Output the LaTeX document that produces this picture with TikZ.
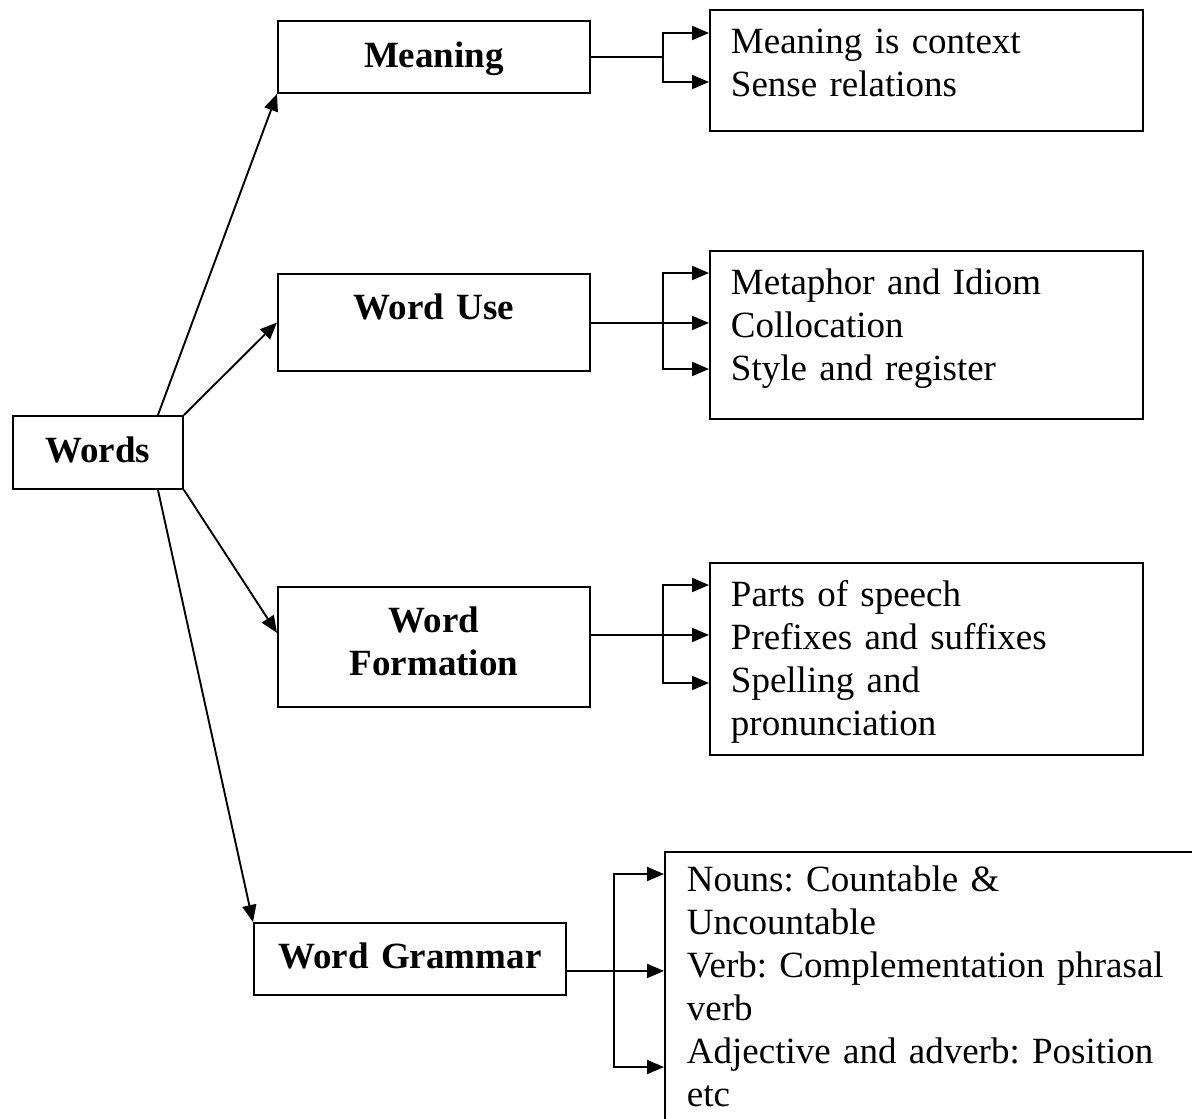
\documentclass[tikz,border=0pt]{standalone}
\usepackage{fontspec}
\setmainfont{Liberation Serif}
\usetikzlibrary{arrows.meta,calc}
\frenchspacing

\begin{document}
\begin{tikzpicture}[x=1pt,y=-1pt,line width=1.9pt,
   headbox/.style={draw,anchor=north west,align=center,inner sep=0pt,
      text width=312pt,text height=46pt,font=\fontsize{37}{43}\selectfont\bfseries},
   listbox/.style={draw,anchor=north west,align=left,inner ysep=0pt,inner xsep=21pt,
      text width=391pt,text height=44pt,font=\fontsize{37}{43}\selectfont},
   arr/.style={-{Triangle[length=17pt,width=14pt]}}]
\useasboundingbox (0,0) rectangle (1192,1119);
\clip (0,0) rectangle (1192,1119);

   \node[headbox,text width=170pt,text height=47pt,text depth=26pt] (words) at (12,415) {Words};
   \node[headbox,text height=47pt,text depth=25pt] (meaning) at (277,20) {Meaning};
   \node[headbox,text depth=51pt] (use) at (277,273) {Word Use};
   \node[headbox,text depth=74pt] (form) at (277,586) {Word\\Formation};
   \node[headbox,text depth=26pt] (gram) at (253,922) {Word Grammar};

   \node[listbox,text depth=77pt] (meaninglist) at (709,9) {Meaning is context\\Sense relations};
   \node[listbox,text depth=124pt] (uselist) at (709,250) {Metaphor and Idiom\\Collocation\\Style and register};
   \node[listbox,text depth=148pt] (formlist) at (709,562) {Parts of speech\\Prefixes and suffixes\\Spelling and\\pronunciation};
   \node[listbox,text width=500pt,inner xsep=22pt,text height=40pt,text depth=240pt] (gramlist) at (664,851)
      {Nouns: Countable \&\\Uncountable\\Verb: Complementation phrasal\\verb\\Adjective and adverb: Position\\etc};

% from Words
\begin{scope}[arr]
   \draw ([xshift=60pt]words.north) -- (meaning.south west);
   \draw (words.north east) -- (use.west);
   \draw (words.south east) -- ([yshift=14pt]form.west);
   \draw ([xshift=60pt]words.south) -- (gram.north west);
\end{scope}

% Meaning
   \draw (meaning.east) -- ++(72,0) coordinate (mfork);
   \draw[arr] (mfork) |- ($(meaninglist.north west)+(0,24)$);
   \draw[arr] (mfork) |- ($(meaninglist.north west)+(0,73)$);

% Word Use
   \coordinate (uout) at ($(use.east)+(0,0.5)$);
   \draw[arr] (uout) -- (uout -| uselist.west);
   \coordinate (ufork) at ($(uout)+(72,0)$);
   \draw[arr] (ufork) |- ($(uselist.north west)+(0,23)$);
   \draw[arr] (ufork) |- ($(uselist.north west)+(0,119)$);

% Word Formation
   \coordinate (fout) at ($(form.east)+(0,-12)$);
   \draw[arr] (fout) -- (fout -| formlist.west);
   \coordinate (ffork) at ($(fout)+(72,0)$);
   \draw[arr] (ffork) |- ($(formlist.north west)+(0,23)$);
   \draw[arr] (ffork) |- ($(formlist.north west)+(0,121)$);

% Word Grammar
   \coordinate (gout) at ($(gram.east)+(0,12)$);
   \draw[arr] (gout) -- (gout -| gramlist.west);
   \coordinate (gfork) at ($(gout)+(47,0)$);
   \draw[arr] (gfork) |- ($(gramlist.north west)+(0,23)$);
   \draw[arr] (gfork) |- ($(gramlist.north west)+(0,216)$);
\end{tikzpicture}
\end{document}
